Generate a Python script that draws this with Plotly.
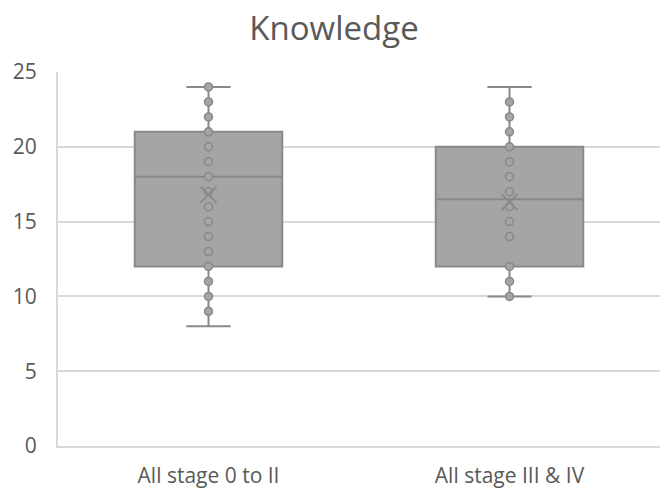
import plotly.graph_objects as go

# Knowledge scores by cancer stage group
categories = ["All stage 0 to II", "All stage III & IV"]
q1 = [12, 12]
median = [18, 16.5]
q3 = [21, 20]
lower_whisker = [8, 10]
upper_whisker = [24, 24]
means = [16.8, 16.3]

points_early = [24, 23, 22, 21, 20, 19, 18, 17, 16, 15, 14, 13, 12, 11, 10, 9]
points_late = [23, 22, 21, 20, 19, 18, 17, 16, 15, 14, 12, 11, 10]

y_ticks = [0, 5, 10, 15, 20, 25]

FILL = "#a5a5a5"
EDGE = "#898989"
TEXT = "#595959"
GRID = "#d9d9d9"
FONT = "Open Sans, Liberation Sans, sans-serif"

fig = go.Figure()

fig.add_trace(go.Box(
    x=categories,
    q1=q1,
    median=median,
    q3=q3,
    lowerfence=lower_whisker,
    upperfence=upper_whisker,
    boxpoints=False,
    fillcolor=FILL,
    line=dict(color=EDGE, width=2),
    width=0.49,
    whiskerwidth=0.3,
    hoverinfo="skip",
    showlegend=False,
))

for cat, pts in zip(categories, [points_early, points_late]):
    fig.add_trace(go.Scatter(
        x=[cat] * len(pts),
        y=pts,
        mode="markers",
        marker=dict(size=8, color=FILL, line=dict(color=EDGE, width=1.5)),
        showlegend=False,
    ))

fig.add_trace(go.Scatter(
    x=categories,
    y=means,
    mode="markers",
    marker=dict(symbol="x-thin-open", size=16, color=EDGE,
                line=dict(color=EDGE, width=1.8)),
    showlegend=False,
))

fig.update_layout(
    width=668,
    height=498,
    margin=dict(l=58, r=8, t=72, b=52),
    paper_bgcolor="white",
    plot_bgcolor="white",
    font=dict(family=FONT, color=TEXT, size=21),
    title=dict(
        text="Knowledge",
        x=0.5,
        xanchor="center",
        y=1 - 28 / 498,
        yanchor="middle",
        font=dict(family=FONT, size=33, color=TEXT),
    ),
    xaxis=dict(
        type="category",
        showgrid=False,
        showline=True,
        linecolor=GRID,
        linewidth=2,
        ticks="",
        ticklabelstandoff=10,
        tickfont=dict(size=21, color=TEXT),
        range=[-0.5, 1.5],
    ),
    yaxis=dict(
        range=[0, 25],
        tickvals=y_ticks,
        showgrid=True,
        gridcolor=GRID,
        gridwidth=2,
        showline=True,
        linecolor=GRID,
        linewidth=2,
        zeroline=False,
        ticks="",
        ticklabelstandoff=15,
        tickfont=dict(size=21, color=TEXT),
    ),
)

fig.write_html("out.html")
